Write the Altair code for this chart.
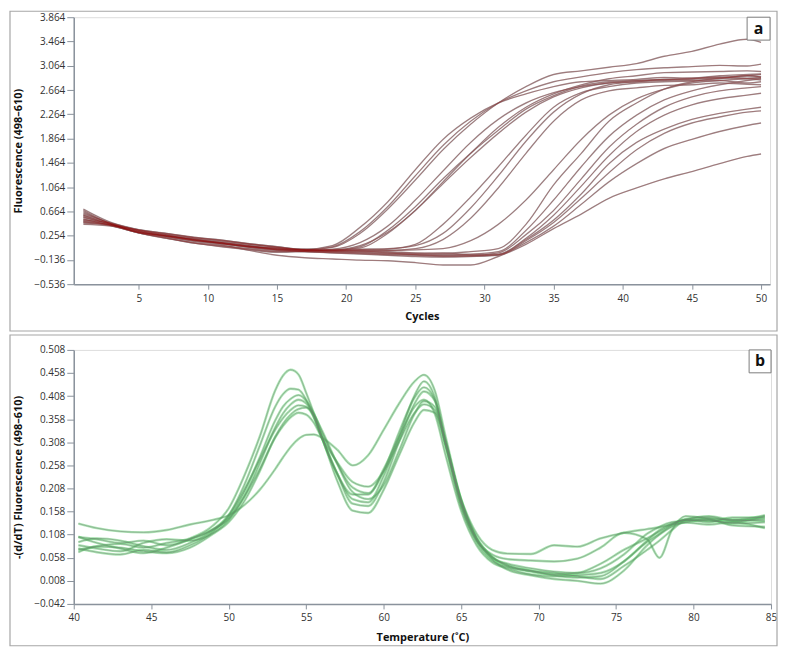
import altair as alt
import pandas as pd

# ---------------- Panel a: amplification curves ----------------
cycles = [1, 3, 5, 7, 9, 11, 13, 15, 17, 19, 21, 23, 25, 27, 29, 31, 33, 35, 37, 39, 41, 43, 45, 47, 49, 50]

amp_A1 = [0.66, 0.46, 0.36, 0.30, 0.24, 0.19, 0.13, 0.08, 0.04, 0.10, 0.40, 0.82, 1.35, 1.85, 2.20, 2.45, 2.60, 2.72, 2.80, 2.82, 2.84, 2.87, 2.86, 2.90, 2.92, 2.93]
amp_A2 = [0.58, 0.45, 0.33, 0.26, 0.21, 0.14, 0.09, 0.04, 0.03, 0.08, 0.33, 0.74, 1.25, 1.75, 2.15, 2.45, 2.65, 2.80, 2.88, 2.95, 3.00, 3.03, 3.05, 3.07, 3.06, 3.09]
amp_A3 = [0.52, 0.47, 0.35, 0.28, 0.19, 0.13, 0.08, 0.06, 0.03, 0.07, 0.30, 0.70, 1.18, 1.68, 2.10, 2.45, 2.72, 2.92, 2.98, 3.04, 3.10, 3.22, 3.30, 3.42, 3.50, 3.45]
amp_B1 = [0.48, 0.44, 0.32, 0.25, 0.18, 0.14, 0.07, 0.03, 0.02, 0.04, 0.15, 0.42, 0.85, 1.33, 1.80, 2.18, 2.45, 2.62, 2.72, 2.78, 2.82, 2.84, 2.86, 2.87, 2.90, 2.88]
amp_B2 = [0.70, 0.48, 0.36, 0.29, 0.23, 0.18, 0.12, 0.07, 0.03, 0.03, 0.10, 0.32, 0.68, 1.15, 1.62, 2.05, 2.38, 2.60, 2.75, 2.85, 2.90, 2.95, 2.96, 2.97, 2.98, 2.97]
amp_B3 = [0.60, 0.45, 0.33, 0.26, 0.19, 0.15, 0.10, 0.04, 0.03, 0.02, 0.08, 0.35, 0.74, 1.20, 1.62, 2.00, 2.35, 2.57, 2.73, 2.80, 2.82, 2.83, 2.85, 2.88, 2.86, 2.87]
amp_B4 = [0.54, 0.43, 0.31, 0.26, 0.20, 0.13, 0.08, 0.05, 0.01, 0.03, 0.06, 0.30, 0.68, 1.12, 1.55, 1.95, 2.30, 2.55, 2.70, 2.78, 2.80, 2.84, 2.82, 2.85, 2.90, 2.88]
amp_C1 = [0.64, 0.46, 0.31, 0.22, 0.15, 0.10, 0.05, 0.01, 0.01, 0.03, 0.04, 0.05, 0.10, 0.30, 0.72, 1.25, 1.82, 2.30, 2.60, 2.75, 2.80, 2.82, 2.84, 2.86, 2.85, 2.83]
amp_C2 = [0.50, 0.44, 0.33, 0.25, 0.18, 0.14, 0.08, 0.03, 0.01, 0.00, 0.02, 0.04, 0.12, 0.45, 0.90, 1.40, 1.92, 2.38, 2.62, 2.72, 2.78, 2.80, 2.81, 2.82, 2.78, 2.80]
amp_C3 = [0.56, 0.45, 0.34, 0.26, 0.20, 0.15, 0.09, 0.06, 0.04, 0.02, 0.03, 0.02, 0.05, 0.20, 0.55, 1.05, 1.62, 2.15, 2.50, 2.65, 2.70, 2.74, 2.75, 2.78, 2.76, 2.75]
amp_D1 = [0.47, 0.43, 0.32, 0.27, 0.19, 0.13, 0.08, 0.04, 0.02, 0.01, 0.03, 0.02, 0.03, 0.05, 0.18, 0.45, 0.85, 1.35, 1.85, 2.25, 2.52, 2.68, 2.78, 2.82, 2.85, 2.86]
amp_L1 = [0.62, 0.47, 0.34, 0.26, 0.20, 0.15, 0.10, 0.05, 0.03, 0.02, 0.01, 0.00, -0.02, -0.03, 0.00, 0.05, 0.45, 1.10, 1.62, 2.15, 2.45, 2.68, 2.80, 2.86, 2.90, 2.92]
amp_L2 = [0.53, 0.44, 0.31, 0.23, 0.14, 0.09, 0.04, 0.00, 0.01, 0.00, -0.01, -0.03, -0.04, -0.05, -0.04, 0.00, 0.35, 0.85, 1.40, 1.90, 2.25, 2.50, 2.65, 2.75, 2.82, 2.85]
amp_L3 = [0.57, 0.45, 0.35, 0.27, 0.21, 0.15, 0.09, 0.03, 0.00, -0.01, 0.00, -0.02, -0.05, -0.06, -0.06, -0.02, 0.28, 0.68, 1.20, 1.72, 2.10, 2.38, 2.55, 2.65, 2.70, 2.72]
amp_L4 = [0.49, 0.43, 0.32, 0.25, 0.19, 0.13, 0.07, 0.02, 0.00, -0.02, -0.03, -0.05, -0.06, -0.08, -0.07, -0.05, 0.22, 0.60, 1.08, 1.58, 1.98, 2.25, 2.42, 2.52, 2.58, 2.61]
amp_L5 = [0.60, 0.46, 0.36, 0.30, 0.23, 0.19, 0.13, 0.08, 0.03, 0.02, 0.01, -0.01, -0.03, -0.02, -0.05, -0.04, 0.20, 0.52, 0.95, 1.45, 1.80, 2.02, 2.18, 2.28, 2.35, 2.38]
amp_L6 = [0.51, 0.44, 0.31, 0.22, 0.14, 0.08, 0.03, -0.01, 0.00, -0.02, -0.04, -0.06, -0.08, -0.09, -0.08, -0.06, 0.18, 0.48, 0.88, 1.30, 1.68, 1.95, 2.12, 2.22, 2.30, 2.32]
amp_L7 = [0.68, 0.46, 0.35, 0.28, 0.22, 0.17, 0.12, 0.07, 0.02, 0.00, -0.02, -0.04, -0.05, -0.07, -0.07, -0.05, 0.15, 0.42, 0.78, 1.15, 1.45, 1.70, 1.85, 1.98, 2.08, 2.12]
amp_L8 = [0.45, 0.42, 0.31, 0.24, 0.17, 0.11, 0.02, -0.06, -0.10, -0.12, -0.14, -0.15, -0.18, -0.22, -0.22, -0.08, 0.12, 0.38, 0.62, 0.88, 1.05, 1.20, 1.32, 1.45, 1.57, 1.61]

amp_curves = {
    "A1": amp_A1, "A2": amp_A2, "A3": amp_A3, "B1": amp_B1, "B2": amp_B2,
    "B3": amp_B3, "B4": amp_B4, "C1": amp_C1, "C2": amp_C2, "C3": amp_C3,
    "D1": amp_D1, "L1": amp_L1, "L2": amp_L2, "L3": amp_L3, "L4": amp_L4,
    "L5": amp_L5, "L6": amp_L6, "L7": amp_L7, "L8": amp_L8,
}
a_y_ticks = [-0.536, -0.136, 0.264, 0.664, 1.064, 1.464, 1.864, 2.264, 2.664, 3.064, 3.464, 3.864]
a_x_ticks = [5, 10, 15, 20, 25, 30, 35, 40, 45, 50]

# ---------------- Panel b: melt curves ----------------
temps = [40.3, 41.5, 43, 44.5, 46, 47.5, 49, 50, 51, 52, 53, 53.5, 54, 54.5, 55, 55.5, 56, 57, 58, 59,
         60, 61, 62, 62.6, 63.3, 64, 65, 66, 67, 68, 69.5, 71, 72.5, 74, 75.5, 77, 77.8, 78.6, 79.5, 81,
         82.5, 84.6]

melt_M1 = [0.075, 0.083, 0.088, 0.080, 0.090, 0.100, 0.128, 0.165, 0.235, 0.320, 0.420, 0.452, 0.465, 0.455, 0.415, 0.370, 0.320, 0.240, 0.195, 0.195,
           0.250, 0.320, 0.385, 0.400, 0.370, 0.280, 0.160, 0.085, 0.048, 0.035, 0.022, 0.018, 0.020, 0.025, 0.050, 0.095, 0.118, 0.132, 0.140, 0.138, 0.135, 0.148]
melt_M2 = [0.103, 0.098, 0.090, 0.095, 0.085, 0.098, 0.120, 0.150, 0.215, 0.300, 0.385, 0.412, 0.424, 0.422, 0.400, 0.362, 0.318, 0.240, 0.185, 0.178,
           0.235, 0.320, 0.410, 0.440, 0.405, 0.300, 0.170, 0.095, 0.065, 0.055, 0.052, 0.050, 0.056, 0.080, 0.112, 0.098, 0.058, 0.118, 0.148, 0.142, 0.132, 0.135]
melt_M3 = [0.092, 0.100, 0.095, 0.083, 0.075, 0.090, 0.118, 0.145, 0.200, 0.275, 0.355, 0.385, 0.402, 0.410, 0.398, 0.370, 0.330, 0.262, 0.210, 0.198,
           0.245, 0.330, 0.405, 0.427, 0.400, 0.305, 0.172, 0.092, 0.052, 0.038, 0.028, 0.022, 0.025, 0.045, 0.075, 0.100, 0.115, 0.130, 0.142, 0.145, 0.138, 0.142]
melt_M4 = [0.085, 0.078, 0.072, 0.090, 0.098, 0.095, 0.112, 0.140, 0.190, 0.262, 0.340, 0.370, 0.390, 0.400, 0.392, 0.365, 0.322, 0.240, 0.175, 0.170,
           0.222, 0.310, 0.392, 0.418, 0.398, 0.310, 0.178, 0.098, 0.055, 0.032, 0.020, 0.012, 0.008, 0.002, 0.030, 0.085, 0.108, 0.125, 0.135, 0.140, 0.128, 0.125]
melt_M5 = [0.078, 0.070, 0.065, 0.075, 0.070, 0.085, 0.115, 0.150, 0.205, 0.270, 0.335, 0.360, 0.378, 0.388, 0.385, 0.362, 0.320, 0.225, 0.160, 0.155,
           0.205, 0.280, 0.352, 0.378, 0.372, 0.300, 0.185, 0.110, 0.075, 0.067, 0.066, 0.085, 0.082, 0.100, 0.112, 0.120, 0.124, 0.130, 0.134, 0.130, 0.135, 0.122]
melt_M6 = [0.070, 0.082, 0.080, 0.072, 0.068, 0.080, 0.110, 0.135, 0.180, 0.245, 0.320, 0.348, 0.368, 0.380, 0.383, 0.368, 0.335, 0.262, 0.200, 0.185,
           0.215, 0.290, 0.370, 0.397, 0.385, 0.310, 0.182, 0.100, 0.060, 0.042, 0.030, 0.025, 0.018, 0.012, 0.040, 0.075, 0.095, 0.118, 0.140, 0.148, 0.140, 0.150]
melt_M7 = [0.132, 0.122, 0.115, 0.113, 0.118, 0.130, 0.140, 0.150, 0.172, 0.205, 0.250, 0.275, 0.298, 0.315, 0.324, 0.325, 0.318, 0.292, 0.258, 0.280,
           0.335, 0.392, 0.440, 0.454, 0.420, 0.320, 0.185, 0.102, 0.060, 0.040, 0.030, 0.020, 0.015, 0.018, 0.050, 0.092, 0.110, 0.128, 0.140, 0.135, 0.145, 0.145]
melt_M8 = [0.103, 0.090, 0.078, 0.068, 0.080, 0.098, 0.120, 0.142, 0.190, 0.250, 0.318, 0.343, 0.362, 0.372, 0.368, 0.350, 0.318, 0.265, 0.222, 0.212,
           0.245, 0.310, 0.372, 0.390, 0.378, 0.305, 0.180, 0.098, 0.058, 0.045, 0.035, 0.028, 0.025, 0.035, 0.065, 0.110, 0.125, 0.135, 0.138, 0.142, 0.140, 0.138]

melt_curves = {
    "M1": melt_M1, "M2": melt_M2, "M3": melt_M3, "M4": melt_M4,
    "M5": melt_M5, "M6": melt_M6, "M7": melt_M7, "M8": melt_M8,
}
b_y_ticks = [-0.042, 0.008, 0.058, 0.108, 0.158, 0.208, 0.258, 0.308, 0.358, 0.408, 0.458, 0.508]
b_x_ticks = [40, 45, 50, 55, 60, 65, 70, 75, 80, 85]

for k, v in amp_curves.items():
    assert len(v) == len(cycles), k
for k, v in melt_curves.items():
    assert len(v) == len(temps), k

df_a = pd.DataFrame([{"cycle": c, "fluor": v, "curve": k}
                     for k, vals in amp_curves.items() for c, v in zip(cycles, vals)])
df_b = pd.DataFrame([{"temp": t, "deriv": v, "curve": k}
                     for k, vals in melt_curves.items() for t, v in zip(temps, vals)])
one = pd.DataFrame({"d": [0]})

# ---------------- style ----------------
AXIS_COL = "#8a929c"
LABEL_FONT = "Open Sans"
TITLE_FONT = "Open Sans"
W = 699
HA = 268
HB = 255

def y_axis(ticks, title, expr=None):
    kw = dict(values=ticks, title=title, format=".3f", tickSize=7, labelPadding=2,
              titleX=-50, titleFontWeight="bold", titleFontSize=11, titleFont=TITLE_FONT,
              labelFont=LABEL_FONT, labelFontSize=10, labelColor="#333333",
              titleColor="#111111", domainColor=AXIS_COL, tickColor=AXIS_COL,
              grid=False, domainWidth=1.5)
    if expr:
        kw["labelExpr"] = expr
    return alt.Axis(**kw)

def x_axis(ticks, title, title_y):
    return alt.Axis(values=ticks, title=title, tickSize=5, labelPadding=4,
                    titleY=title_y, titleFontWeight="bold", titleFontSize=11,
                    titleFont=TITLE_FONT, labelFont=LABEL_FONT, labelFontSize=10,
                    labelColor="#333333", titleColor="#111111",
                    domainColor=AXIS_COL, tickColor=AXIS_COL, grid=False,
                    domainWidth=1.5, labelFlush=False)

def frame(top, bottom):
    return alt.Chart(one).mark_rect(fill="transparent", stroke="#a6a6a6", strokeWidth=1.2).encode(
        x=alt.value(-64), x2=alt.value(706), y=alt.value(top), y2=alt.value(bottom))

def tag(letter, x0, x1):
    box = alt.Chart(one).mark_rect(fill="white", stroke="#7c7c7c", strokeWidth=1).encode(
        x=alt.value(x0), x2=alt.value(x1), y=alt.value(0), y2=alt.value(23))
    txt = alt.Chart(one).mark_text(text=letter, fontSize=16, fontWeight="bold",
                                   font="Open Sans", color="#111111").encode(
        x=alt.value((x0 + x1) / 2), y=alt.value(11.5))
    return box, txt

# ---------------- panel a ----------------
xa = alt.X("cycle:Q", scale=alt.Scale(domain=[0.3, 50.65], nice=False, zero=False),
           axis=x_axis(a_x_ticks, "Cycles", 26))
ya = alt.Y("fluor:Q", scale=alt.Scale(domain=[-0.536, 3.864], nice=False, zero=False),
           axis=y_axis(a_y_ticks, "Fluorescence (498\u2013610)",
                       "datum.value > 0.25 && datum.value < 0.27 ? '0.254' : format(datum.value, '.3f')"))

a_gray = alt.Chart(df_a).mark_line(color="#978c8e", strokeWidth=1.4, opacity=0.85,
                                   interpolate="monotone").encode(x=xa, y=ya, detail="curve:N")
a_red = alt.Chart(df_a).mark_line(color="#8b0000", strokeWidth=0.6, opacity=0.4,
                                  interpolate="monotone").encode(x=xa, y=ya, detail="curve:N")
a_box, a_txt = tag("a", 676, 699)
panel_a = alt.layer(frame(-6, 315), a_gray, a_red, a_box, a_txt).properties(width=W, height=HA)

# ---------------- panel b ----------------
xb = alt.X("temp:Q", scale=alt.Scale(domain=[40, 85], nice=False, zero=False),
           axis=x_axis(b_x_ticks, "Temperature (\u02daC)", 28))
yb = alt.Y("deriv:Q", scale=alt.Scale(domain=[-0.042, 0.508], nice=False, zero=False),
           axis=y_axis(b_y_ticks, "-(d/dT) Fluorescence (498\u2013610)"))

b_green = alt.Chart(df_b).mark_line(color="#36c24a", strokeWidth=2.4, opacity=0.42,
                                    interpolate="monotone").encode(x=xb, y=yb, detail="curve:N")
b_gray = alt.Chart(df_b).mark_line(color="#6f7f72", strokeWidth=0.8, opacity=0.6,
                                   interpolate="monotone").encode(x=xb, y=yb, detail="curve:N")
b_box, b_txt = tag("b", 678, 700)
panel_b = alt.layer(frame(-15, 297), b_green, b_gray, b_box, b_txt).properties(width=W + 1, height=HB)

chart = alt.vconcat(panel_a, panel_b, spacing=0).properties(
    padding={"left": 0, "top": 0, "right": 0, "bottom": 0}
).configure_view(stroke="#8a8a8a", strokeWidth=1.5).configure(background="white")

chart.save("out.html", embed_options={"renderer": "svg", "actions": False})
